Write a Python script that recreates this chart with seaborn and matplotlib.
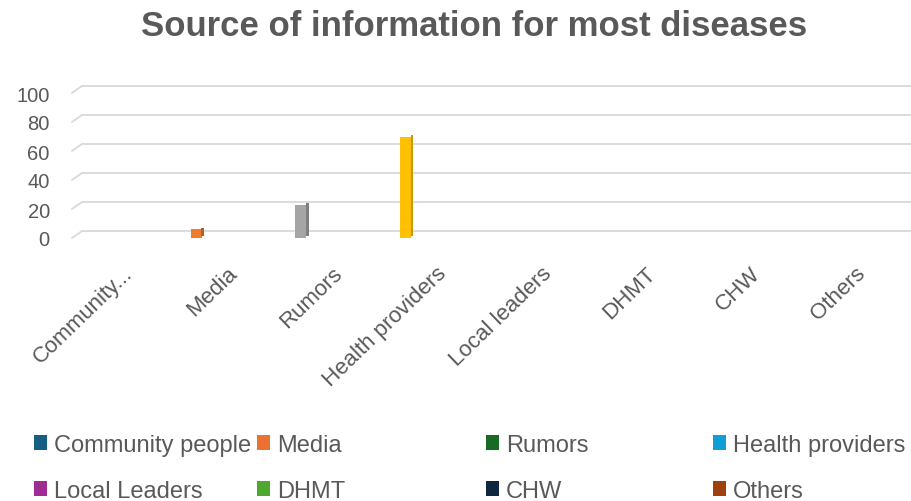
import numpy as np
import pandas as pd
import matplotlib
matplotlib.use("Agg")
import matplotlib.pyplot as plt
import matplotlib.transforms as mtransforms
from matplotlib.patches import Patch
import seaborn as sns

# Data
categories = ["Community...", "Media", "Rumors", "Health providers",
              "Local leaders", "DHMT", "CHW", "Others"]
values = [0, 6, 23, 70, 0, 0, 0, 0]
bar_colors = ["#4472C4", "#ED7D31", "#A5A5A5", "#FFC000",
              "#5B9BD5", "#70AD47", "#264478", "#9E480E"]
side_colors = ["#2F5597", "#B85F20", "#7F7F7F", "#C89800",
               "#3F7CB5", "#548235", "#1A2F55", "#6E320A"]

legend_labels = ["Community people", "Media", "Rumors", "Health providers",
                 "Local Leaders", "DHMT", "CHW", "Others"]
legend_colors = ["#156082", "#E97132", "#196B24", "#0F9ED5",
                 "#A02B93", "#4EA72E", "#0E2841", "#A0400C"]

yticks = [0, 20, 40, 60, 80, 100]

TEXT = "#595959"
GRID = "#D9D9D9"

sns.set_style("white")
plt.rcParams['font.family'] = ['Liberation Sans', 'DejaVu Sans']

df = pd.DataFrame({"source": categories, "value": values})

fig = plt.figure(figsize=(9.12, 5.02), dpi=100)
ax = fig.add_axes([72 / 912, 263 / 502, 840 / 912, 145 / 502])

sns.barplot(data=df, x="source", y="value", hue="source", palette=bar_colors,
            width=0.105, legend=False, ax=ax, saturation=1, linewidth=0, zorder=3)

# darker side face for the pseudo-3D look
for i, v in enumerate(values):
    if v > 0:
        ax.bar(i + 0.05 + 0.013, v, width=0.026, bottom=1.2,
               color=side_colors[i], linewidth=0, zorder=3)

ax.set_xlim(-0.187, 7.84)
ax.set_ylim(0, 100)

# back wall gridlines shifted up/right, with slanted lead-ins from the front
shift = mtransforms.ScaledTranslation(0.10, 0.07, fig.dpi_scale_trans)
for t in yticks:
    ax.plot([-0.187, 7.84], [t, t], color=GRID, lw=1.3,
            transform=ax.transData + shift, clip_on=False, zorder=1)
    ax.annotate("", xy=(-0.187, t), xytext=(-0.187, t),
                xycoords=ax.transData + shift, textcoords=ax.transData,
                arrowprops=dict(arrowstyle="-", color=GRID, lw=1.3,
                                shrinkA=0, shrinkB=0))

ax.set_yticks(yticks)
ax.set_yticklabels([str(t) for t in yticks])
ax.tick_params(axis="y", length=0, pad=16, labelsize=14.5, labelcolor=TEXT)
ax.tick_params(axis="x", length=0, pad=23, labelsize=16, labelcolor=TEXT)
ax.set_xlabel("")
ax.set_ylabel("")
for s in ax.spines.values():
    s.set_visible(False)

offset = mtransforms.ScaledTranslation(0.38, 0, fig.dpi_scale_trans)
for lab in ax.get_xticklabels():
    lab.set_rotation(44)
    lab.set_rotation_mode("anchor")
    lab.set_ha("right")
    lab.set_va("center")
    lab.set_transform(lab.get_transform() + offset)

fig.suptitle("Source of information for most diseases", x=0.52, y=0.947,
             va="center", fontsize=25, fontweight="bold", color=TEXT)

# legend: four columns placed at fixed positions like the original
col_x = [34, 257, 486, 713]
for c in range(4):
    idx = [c, c + 4]
    handles = [Patch(facecolor=legend_colors[i], edgecolor="none") for i in idx]
    fig.legend(handles, [legend_labels[i] for i in idx],
               loc="upper left", bbox_to_anchor=(col_x[c] / 912, 1 - 435 / 502),
               frameon=False, labelcolor=TEXT,
               handlelength=0.55, handleheight=0.6, handletextpad=0.3,
               labelspacing=1.0, borderpad=0, borderaxespad=0,
               prop={"family": ["Liberation Sans", "DejaVu Sans"], "size": 17})

fig.savefig("out.png", dpi=100)
